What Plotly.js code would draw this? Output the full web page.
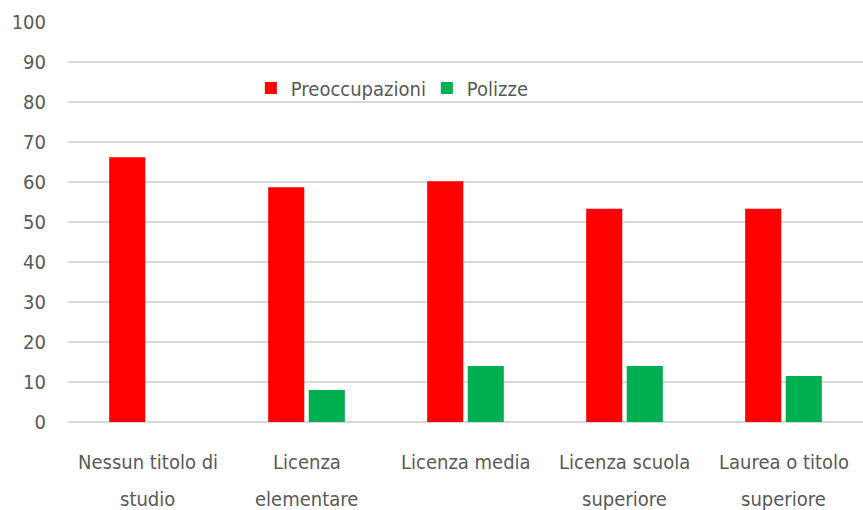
<!DOCTYPE html>
<html>
<head>
<meta charset="utf-8">
<script src="https://cdn.plot.ly/plotly-3.0.1.min.js"></script>
<style>html,body{margin:0;padding:0;background:#fff;}#chart{width:863px;height:510px;}</style>
</head>
<body>
<div id="chart"></div>
<script>
var categories = ["Nessun titolo di studio", "Licenza elementare", "Licenza media", "Licenza scuola superiore", "Laurea o titolo superiore"];
var labelLine1 = ["Nessun titolo di", "Licenza", "Licenza media", "Licenza scuola", "Laurea o titolo"];
var labelLine2 = ["studio", "elementare", "", "superiore", "superiore"];
var preoccupazioni = [66.2, 58.7, 60.2, 53.3, 53.3];
var polizze = [0, 8.0, 14.0, 14.0, 11.5];
var yTicks = [0, 10, 20, 30, 40, 50, 60, 70, 80, 90, 100];

var font = "'DejaVu Sans Condensed', 'Liberation Sans Narrow', sans-serif";
var grey = "#595959";
var fs = 20;

var traces = [
  {type: "bar", name: "Preoccupazioni", x: categories, y: preoccupazioni, marker: {color: "#FF0000"}},
  {type: "bar", name: "Polizze", x: categories, y: polizze, marker: {color: "#00B050"}}
];

var annotations = [];
categories.forEach(function (c, i) {
  annotations.push({xref: "x", yref: "paper", x: c, y: 0, yanchor: "middle", xanchor: "center",
    yshift: -40, showarrow: false, text: labelLine1[i], font: {family: font, size: fs, color: grey}});
  if (labelLine2[i]) {
    annotations.push({xref: "x", yref: "paper", x: c, y: 0, yanchor: "middle", xanchor: "center",
      yshift: -77, showarrow: false, text: labelLine2[i], font: {family: font, size: fs, color: grey}});
  }
});

var layout = {
  width: 863, height: 510,
  margin: {l: 68, r: 0, t: 22, b: 88},
  paper_bgcolor: "#fff", plot_bgcolor: "#fff",
  barmode: "group", bargap: 0.49, bargroupgap: 0.11,
  font: {family: font, size: fs, color: grey},
  showlegend: true,
  legend: {orientation: "h", x: 0.23, y: 0.835, xanchor: "left", yanchor: "middle",
           entrywidth: 131, entrywidthmode: "pixels",
           font: {family: font, size: fs, color: grey}, bgcolor: "rgba(0,0,0,0)"},
  annotations: annotations,
  xaxis: {type: "category", showgrid: false, zeroline: false, showline: false, ticks: "",
          showticklabels: false, fixedrange: true},
  yaxis: {range: [0, 100], tickvals: yTicks, ticktext: yTicks.map(String), showgrid: true, gridcolor: "#D9D9D9", gridwidth: 1.5,
          zeroline: true, zerolinecolor: "#D9D9D9", zerolinewidth: 1.5, showline: false, ticks: "",
          tickfont: {family: font, size: fs, color: grey}, ticklabelstandoff: 21, fixedrange: true}
};

Plotly.newPlot("chart", traces, layout, {displayModeBar: false, staticPlot: true});
</script>
</body>
</html>
